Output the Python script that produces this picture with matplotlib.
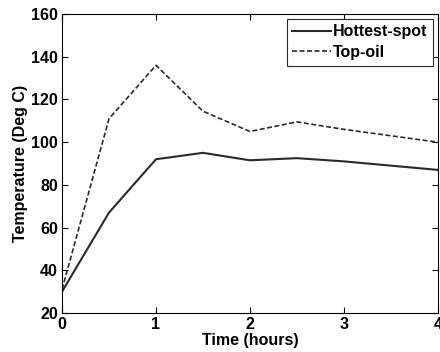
import numpy as np
import matplotlib
matplotlib.use("Agg")
import matplotlib.pyplot as plt

plt.rcParams["font.family"] = "Liberation Sans"
plt.rcParams["font.weight"] = "bold"
plt.rcParams["axes.labelweight"] = "bold"
plt.rcParams["font.size"] = 11

# time in hours
hours = [0, 0.5, 1, 1.5, 2, 2.5, 3, 3.5, 4]
hottest_spot = [30, 67, 92, 95, 91.5, 92.5, 91, 89, 87]
top_oil = [31, 111, 136, 114.5, 105, 109.5, 106, 103, 100]

fig = plt.figure(figsize=(4.4, 3.52), dpi=100)
ax = fig.add_axes([0.141, 0.111, 0.854, 0.849])

ax.plot(hours, hottest_spot, color="#2a2a2a", lw=1.5, ls="-", label="Hottest-spot")
ax.plot(hours, top_oil, color="#2a2a2a", lw=1.2, ls=(0, (3, 1.5)), label="Top-oil")

ax.set_xlim(0, 4)
ax.set_ylim(20, 160)
ax.set_xticks([0, 1, 2, 3, 4])
ax.set_yticks(np.arange(20, 161, 20))
ax.tick_params(direction="in", top=True, right=True, length=4, width=0.8, pad=3,
               labelsize=11.5)
for lab in ax.get_xticklabels() + ax.get_yticklabels():
    lab.set_fontweight("bold")
ax.set_xlabel("Time (hours)", labelpad=1, fontsize=11.5, fontweight="bold")
ax.set_ylabel("Temperature (Deg C)", labelpad=2, fontsize=11.5, fontweight="bold")

leg = ax.legend(loc="upper right", fancybox=False, edgecolor="#2a2a2a",
                framealpha=1, handlelength=2.4, borderpad=0.35, fontsize=11.5,
                labelspacing=0.35, handletextpad=0.15, borderaxespad=0.3)
leg.get_frame().set_linewidth(0.8)

fig.savefig("out.png", dpi=100)
